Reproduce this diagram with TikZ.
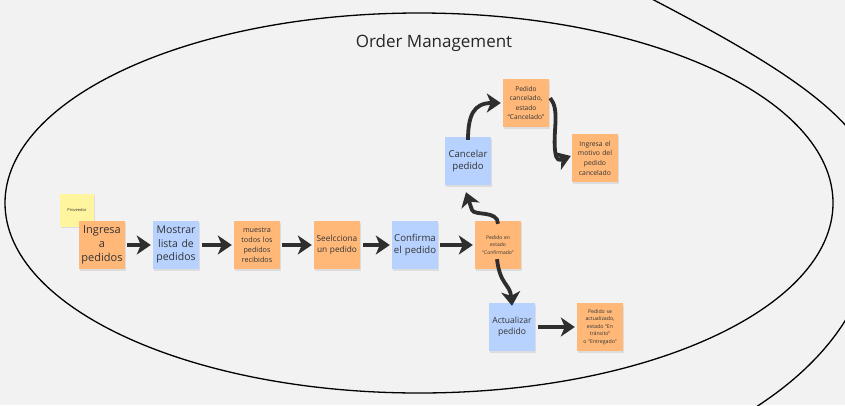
\documentclass[tikz,border=0pt]{standalone}
\usepackage{fontspec}
\setmainfont{Open Sans}
\usetikzlibrary{arrows.meta,shadows}
\definecolor{bgc}{HTML}{F2F2F2}
\definecolor{orangec}{HTML}{FFB878}
\definecolor{bluec}{HTML}{B7D2FF}
\definecolor{yellowc}{HTML}{FFF59E}
\definecolor{inkc}{HTML}{2E2E2E}
\definecolor{txtc}{HTML}{333333}
\tikzset{
  sticky/.style={minimum width=46pt, minimum height=48pt, inner sep=1pt, align=center,
    text width=43pt, text=txtc,
    drop shadow={shadow xshift=1pt, shadow yshift=-1.5pt, opacity=0.18}},
  orangebox/.style={sticky, fill=orangec},
  bluebox/.style={sticky, fill=bluec},
  yellowbox/.style={sticky, fill=yellowc, minimum width=34pt, minimum height=33pt, text width=32pt},
  flow/.style={draw=inkc, line width=3.8pt, -{Stealth[length=14pt,width=19pt,inset=4pt]}},
  fs/.style n args={2}{font=\fontsize{#1}{#2}\selectfont}
}
\begin{document}
\begin{tikzpicture}[x=1pt,y=-1pt]
\fill[bgc] (0,0) rectangle (845,405);
\useasboundingbox (0,0) rectangle (845,405);
% outer ellipse and partial arc
\draw[line width=1.3pt, black] (419,203) ellipse [x radius=414, y radius=190];
\draw[line width=1.3pt, black] (650,-2) .. controls (740,45) and (810,85) .. (848,128);
\draw[line width=1.3pt, black] (848,316) .. controls (825,355) and (790,385) .. (756,407);
\node[font=\fontsize{17}{20}\selectfont, text=black!85] (title) at (434,43) {Order Management};
% nodes
\node[yellowbox, fs={4}{5}] (prov) at (77,210) {Proveedor};
\node[orangebox, fs={11}{14}] (n1) at (102,245) {Ingresa\\a\\pedidos};
\node[bluebox, fs={10.5}{13.5}] (n2) at (176,245) {Mostrar\\lista de\\pedidos};
\node[orangebox, fs={7.2}{10}] (n3) at (257,245) {muestra\\todos los\\pedidos\\recibidos};
\node[orangebox, fs={8.3}{11}] (n4) at (337,245) {Seelcciona\\un pedido};
\node[bluebox, fs={9.6}{12.5}] (n5) at (415,245) {Confirma\\el pedido};
\node[orangebox, fs={5}{7.8}] (n6) at (498,245) {Pedido en\\estado\\``Confirmado''};
\node[bluebox, fs={9.6}{12.5}] (c1) at (468,161) {Cancelar\\pedido};
\node[orangebox, fs={6.6}{9.3}] (c2) at (526,103) {Pedido\\cancelado,\\estado\\``Cancelado''};
\node[orangebox, fs={6.8}{9.7}] (c3) at (595,158) {Ingresa el\\motivo del\\pedido\\cancelado};
\node[bluebox, fs={8.6}{11}] (a1) at (512,327) {Actualizar\\pedido};
\node[orangebox, fs={5.2}{7.5}] (a2) at (600,327) {Pedido se\\actualizado,\\estado ``En\\tránsito''\\o ``Entregado''};
% straight connectors
\draw[flow] ([xshift=2pt]n1.east) -- ([xshift=-2pt]n2.west);
\draw[flow] ([xshift=3pt]n2.east) -- ([xshift=-2pt]n3.west);
\draw[flow] ([xshift=2pt]n3.east) -- ([xshift=-2pt]n4.west);
\draw[flow] ([xshift=3pt]n4.east) -- ([xshift=-2pt]n5.west);
\draw[flow] ([xshift=2pt]n5.east) -- ([xshift=-2pt]n6.west);
\draw[flow] ([xshift=3pt]a1.east) -- ([xshift=-2pt]a2.west);
% curved connectors
\draw[flow] ([yshift=-3pt]n6.north) .. controls (498,210) and (474,216) .. (472,210) -- ([xshift=-2pt,yshift=-7pt]c1.south);
\draw[flow] ([yshift=-3pt]c1.north) .. controls (468,115) and (474,103) .. ([xshift=-2pt]c2.west);
\draw[flow] ([xshift=1pt, yshift=5pt]c2.east) .. controls (560,110) and (553,130) .. (555,150) .. controls (556,162) and (560,160) .. ([xshift=-1pt,yshift=2pt]c3.west);
\draw[flow] ([xshift=-1pt,yshift=10pt]n6.south) .. controls (500,285) and (510,284) .. ([yshift=-3pt]a1.north);
\end{tikzpicture}
\end{document}
